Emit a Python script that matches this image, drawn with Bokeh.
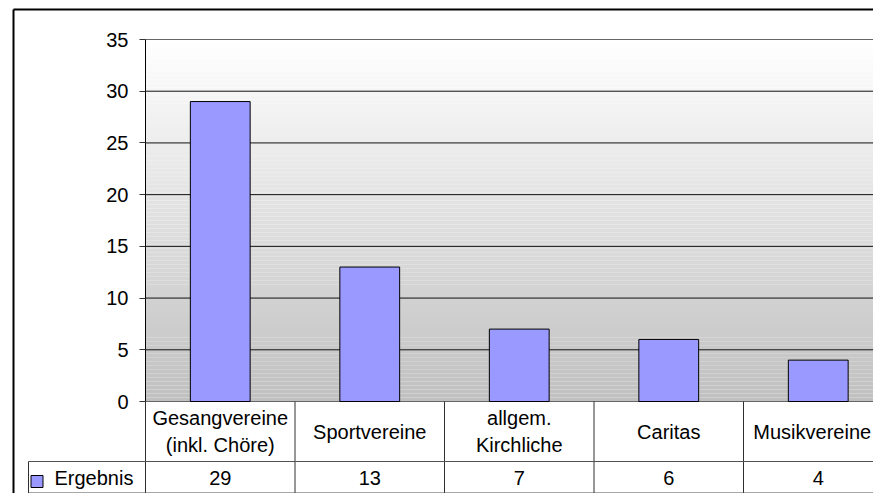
from bokeh.plotting import figure
from bokeh.models import Range1d, LinearAxis, FixedTicker, ColumnDataSource
from bokeh.core.properties import value
from bokeh.embed import file_html
from bokeh.resources import INLINE

# ---- data ----
CATEGORIES = ["Gesangvereine\n(inkl. Chöre)", "Sportvereine", "allgem.\nKirchliche", "Caritas", "Musikvereine"]
VALUES = [29, 13, 7, 6, 4]
SERIES_NAME = "Ergebnis"
Y_TICKS = [0, 5, 10, 15, 20, 25, 30, 35]

# ---- layout constants (pixels inside the figure) ----
FONT = "Liberation Sans"
W, H = 873, 493
PLOT_LEFT_PX, ZERO_PX, TOP_PX = 145, 401, 39
CAT_PX = 149.5
UNIT_PX = (ZERO_PX - TOP_PX) / 35.0
LABEL_SHIFT = [0, 0, 0, 0, -6]   # keep the last label inside the canvas

def dx(px):
    return (px - PLOT_LEFT_PX) / CAT_PX

def dy(py):
    return (ZERO_PX - py) / UNIT_PX

p = figure(width=W, height=H, output_backend="svg", toolbar_location=None,
           x_range=Range1d(dx(0), dx(W)), y_range=Range1d(dy(H), dy(0)),
           x_axis_location=None, y_axis_location=None,
           min_border=0, min_border_left=0, min_border_right=0,
           min_border_top=0, min_border_bottom=0)
p.outline_line_color = None
p.background_fill_color = "white"
p.border_fill_color = "white"
p.xgrid.visible = False
p.ygrid.visible = False

n = len(CATEGORIES)
ymax = Y_TICKS[-1]

# gradient background of the plot area (white at top -> grey at bottom)
N = 90
lefts, rights, bots, tops, cols = [], [], [], [], []
for k in range(N):
    t = (k + 0.5) / N
    c = int(round(192 + (255 - 192) * t))
    lefts.append(0); rights.append(n + 0.5)
    bots.append(ymax * k / N); tops.append(ymax * (k + 1) / N)
    cols.append("#%02x%02x%02x" % (c, c, c))
p.quad(left=lefts, right=rights, bottom=bots, top=tops, fill_color=cols, line_color=None)

# horizontal gridlines
grid_cols = ["#111111" if t not in (0, ymax) else "#666666" for t in Y_TICKS]
p.segment(x0=[0] * len(Y_TICKS), x1=[n + 0.5] * len(Y_TICKS), y0=Y_TICKS, y1=Y_TICKS,
          line_color=grid_cols, line_width=1)

# bars
xs = [i + 0.5 for i in range(n)]
src = ColumnDataSource(dict(x=xs, top=VALUES, cat=CATEGORIES, lab=[str(v) for v in VALUES],
                            xo=LABEL_SHIFT))
p.vbar(x="x", top="top", bottom=0, width=0.4, source=src,
       fill_color="#9999ff", line_color="black", line_width=1)

# y axis
yaxis = LinearAxis(fixed_location=0, bounds=(0, ymax), ticker=FixedTicker(ticks=Y_TICKS))
yaxis.major_tick_out = 6
yaxis.major_tick_in = 0
yaxis.minor_tick_line_color = None
yaxis.axis_line_color = "black"
yaxis.major_tick_line_color = "#333333"
yaxis.major_label_text_font = FONT
yaxis.major_label_text_font_size = "20px"
yaxis.major_label_text_color = "black"
yaxis.major_label_standoff = 11
p.add_layout(yaxis, "left")

# data table under the plot
row1_bot = dy(461)
row2_bot = dy(492.5)
leg_left = dx(28)
vx = [float(i) for i in range(n + 1)]
p.segment(x0=vx, x1=vx, y0=[0] * len(vx), y1=[row2_bot] * len(vx), line_color="#303030", line_width=1)
p.segment(x0=[leg_left], x1=[leg_left], y0=[row1_bot], y1=[row2_bot], line_color="#303030", line_width=1)
p.segment(x0=[leg_left, leg_left], x1=[n + 0.5, n + 0.5], y0=[row1_bot, row2_bot], y1=[row1_bot, row2_bot],
          line_color="#505050", line_width=1)

# category labels
p.text(x="x", y=dy(431), text="cat", source=src, x_offset="xo", text_align="center", text_baseline="middle",
       text_font=value(FONT), text_font_size="20px", text_color="black", text_line_height=1.2)
# values row
p.text(x="x", y=dy(477), text="lab", source=src, text_align="center", text_baseline="middle",
       text_font=value(FONT), text_font_size="20px", text_color="black")
# legend key + series name
p.scatter(x=[dx(36.5)], y=[dy(481)], marker="square", size=12, fill_color="#9999ff", line_color="black")
p.text(x=[dx(54)], y=[dy(477)], text=[SERIES_NAME], text_align="left", text_baseline="middle",
       text_font=value(FONT), text_font_size="20px", text_color="black")

# chart border (top and left edges visible)
p.segment(x0=[dx(13), dx(13)], x1=[dx(900), dx(13)], y0=[dy(9), dy(9)], y1=[dy(9), dy(520)],
          line_color="black", line_width=2)

open("out.html", "w").write(file_html(p, INLINE))
